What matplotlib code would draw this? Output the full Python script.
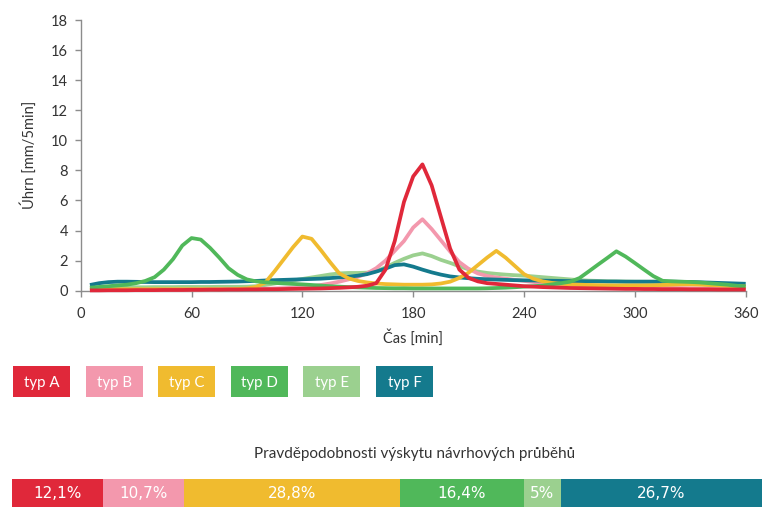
import matplotlib
matplotlib.use("Agg")
import matplotlib.pyplot as plt
from matplotlib.patches import Rectangle

plt.rcParams['font.family'] = ['Lato', 'DejaVu Sans']

# time axis: 5-minute steps
time_min = list(range(5, 365, 5))

typ_a = [0.02, 0.02, 0.03, 0.03, 0.03, 0.04, 0.04, 0.04, 0.05, 0.05,
         0.05, 0.06, 0.06, 0.07, 0.07, 0.08, 0.08, 0.09, 0.09, 0.10,
         0.10, 0.11, 0.12, 0.13, 0.14, 0.15, 0.17, 0.19, 0.22, 0.26,
         0.33, 0.5, 1.4, 3.3, 5.9, 7.6, 8.4, 7.0, 4.9, 2.8,
         1.4, 0.85, 0.62, 0.5, 0.45, 0.4, 0.35, 0.3, 0.27, 0.24,
         0.22, 0.2, 0.18, 0.17, 0.16, 0.15, 0.14, 0.13, 0.12, 0.12,
         0.11, 0.11, 0.1, 0.1, 0.1, 0.09, 0.09, 0.09, 0.08, 0.08,
         0.08, 0.08]
typ_b = [0.05, 0.05, 0.05, 0.06, 0.06, 0.06, 0.07, 0.07, 0.07, 0.08,
         0.08, 0.08, 0.09, 0.09, 0.1, 0.1, 0.1, 0.11, 0.12, 0.13,
         0.15, 0.17, 0.2, 0.24, 0.3, 0.38, 0.48, 0.6, 0.75, 0.92,
         1.15, 1.5, 2.0, 2.65, 3.3, 4.2, 4.75, 4.1, 3.35, 2.6,
         1.9, 1.45, 1.15, 0.98, 0.88, 0.8, 0.72, 0.65, 0.58, 0.52,
         0.47, 0.43, 0.4, 0.37, 0.34, 0.32, 0.3, 0.28, 0.26, 0.24,
         0.22, 0.2, 0.19, 0.18, 0.17, 0.16, 0.15, 0.14, 0.13, 0.12,
         0.11, 0.1]
typ_c = [0.05, 0.08, 0.1, 0.1, 0.1, 0.1, 0.1, 0.1, 0.1, 0.1,
         0.1, 0.1, 0.1, 0.1, 0.1, 0.1, 0.12, 0.15, 0.25, 0.55,
         1.3, 2.1, 2.9, 3.6, 3.45, 2.7, 1.9, 1.15, 0.82, 0.65,
         0.55, 0.48, 0.44, 0.42, 0.4, 0.4, 0.4, 0.42, 0.48, 0.6,
         0.85, 1.2, 1.7, 2.2, 2.65, 2.2, 1.65, 1.1, 0.8, 0.62,
         0.52, 0.46, 0.42, 0.4, 0.38, 0.37, 0.36, 0.35, 0.35, 0.35,
         0.35, 0.36, 0.38, 0.4, 0.42, 0.42, 0.4, 0.38, 0.35, 0.32,
         0.3, 0.28]
typ_d = [0.2, 0.25, 0.3, 0.35, 0.4, 0.5, 0.65, 0.9, 1.4, 2.1,
         3.0, 3.5, 3.4, 2.85, 2.2, 1.5, 1.05, 0.75, 0.62, 0.56,
         0.52, 0.48, 0.45, 0.42, 0.38, 0.34, 0.3, 0.27, 0.24, 0.22,
         0.2, 0.18, 0.17, 0.16, 0.16, 0.15, 0.15, 0.15, 0.15, 0.15,
         0.15, 0.15, 0.15, 0.16, 0.18, 0.2, 0.23, 0.27, 0.3, 0.34,
         0.42, 0.5, 0.6, 0.84, 1.28, 1.73, 2.17, 2.62, 2.27, 1.84,
         1.4, 0.97, 0.66, 0.62, 0.6, 0.58, 0.55, 0.5, 0.45, 0.4,
         0.33, 0.27]
typ_e = [0.2, 0.21, 0.22, 0.22, 0.23, 0.23, 0.23, 0.24, 0.24, 0.24,
         0.25, 0.25, 0.25, 0.25, 0.26, 0.26, 0.26, 0.27, 0.3, 0.38,
         0.48, 0.58, 0.68, 0.78, 0.88, 0.98, 1.08, 1.15, 1.18, 1.18,
         1.2, 1.3, 1.55, 1.85, 2.12, 2.35, 2.48, 2.3, 2.05, 1.85,
         1.62, 1.42, 1.27, 1.18, 1.12, 1.07, 1.03, 1.0, 0.95, 0.9,
         0.85, 0.8, 0.75, 0.7, 0.67, 0.65, 0.63, 0.62, 0.61, 0.6,
         0.6, 0.6, 0.6, 0.6, 0.58, 0.53, 0.46, 0.38, 0.3, 0.22,
         0.15, 0.1]
typ_f = [0.38, 0.5, 0.57, 0.6, 0.6, 0.59, 0.58, 0.57, 0.57, 0.57,
         0.57, 0.57, 0.58, 0.58, 0.59, 0.6, 0.61, 0.63, 0.65, 0.68,
         0.7, 0.72, 0.74, 0.76, 0.78, 0.8, 0.84, 0.88, 0.93, 1.0,
         1.1, 1.27, 1.47, 1.7, 1.75, 1.6, 1.4, 1.22, 1.07, 0.95,
         0.88, 0.83, 0.79, 0.76, 0.74, 0.72, 0.7, 0.69, 0.68, 0.67,
         0.66, 0.65, 0.64, 0.63, 0.62, 0.62, 0.61, 0.61, 0.6, 0.6,
         0.6, 0.6, 0.6, 0.6, 0.59, 0.58, 0.56, 0.54, 0.52, 0.5,
         0.48, 0.46]

type_names = ["typ A", "typ B", "typ C", "typ D", "typ E", "typ F"]
type_colors = ["#e0283a", "#f398ad", "#f0bb2f", "#50b85a", "#9bd08f", "#147a8d"]
probabilities = [12.1, 10.7, 28.8, 16.4, 5.0, 26.7]
prob_labels = ["12,1%", "10,7%", "28,8%", "16,4%", "5%", "26,7%"]

x_ticks = [0, 60, 120, 180, 240, 300, 360]
y_ticks = [0, 2, 4, 6, 8, 10, 12, 14, 16, 18]

W, H = 765, 507
fig = plt.figure(figsize=(W / 100, H / 100), dpi=100)
text_color = "#333333"
axis_color = "#8c8c8c"

# main hyetograph chart
ax = fig.add_axes([80.7 / W, 1 - 290.7 / H, (745.7 - 80.7) / W, (290.7 - 20) / H])
series = [typ_a, typ_b, typ_c, typ_d, typ_e, typ_f]
zorders = [8, 4, 6, 7, 3, 5]
for vals, col, z in zip(series, type_colors, zorders):
    ax.plot(time_min, vals, color=col, lw=2.7, zorder=z, solid_capstyle="butt",
            solid_joinstyle="round", clip_on=False)

ax.set_xlim(0, 360)
ax.set_ylim(0, 18)
ax.set_xticks(x_ticks)
ax.set_yticks(y_ticks)
for s in ("top", "right"):
    ax.spines[s].set_visible(False)
for s in ("left", "bottom"):
    ax.spines[s].set_color(axis_color)
    ax.spines[s].set_linewidth(1.0)
ax.tick_params(axis="both", colors=axis_color, labelcolor=text_color,
               labelsize=10.5, length=4, width=1.0)
ax.tick_params(axis="x", pad=8)
ax.tick_params(axis="y", pad=5)
ax.set_xlabel("Čas [min]", fontsize=10.5, color=text_color, labelpad=6)
ax.set_ylabel("Úhrn [mm/5min]", fontsize=10.5, color=text_color, labelpad=10)

# colour key boxes
box_w, box_h = 57, 31
box_y = 366
for i, (name, col) in enumerate(zip(type_names, type_colors)):
    x0 = 13 + i * 72.6
    fig.patches.append(Rectangle((x0 / W, 1 - (box_y + box_h) / H), box_w / W, box_h / H,
                                 transform=fig.transFigure, facecolor=col, edgecolor="none"))
    fig.text((x0 + box_w / 2) / W, 1 - (box_y + box_h / 2 + 1) / H, name, color="white",
             fontsize=10.8, ha="center", va="center")

# probability bar
fig.text(415 / W, 1 - 454 / H, "Pravděpodobnosti výskytu návrhových průběhů",
         fontsize=11, color=text_color, ha="center", va="center")
bax = fig.add_axes([12 / W, 0, (762 - 12) / W, (507 - 479) / H])
left = 0.0
for p, col, lab in zip(probabilities, type_colors, prob_labels):
    bax.barh(0, p, left=left, height=1.0, color=col, edgecolor="none")
    bax.text(left + p / 2, 0, lab, color="white", fontsize=11, ha="center", va="center",
             family=["Liberation Sans Narrow", "DejaVu Sans"])
    left += p
bax.set_xlim(0, sum(probabilities))
bax.set_ylim(-0.5, 0.5)
bax.axis("off")

fig.savefig("out.png", dpi=100)
